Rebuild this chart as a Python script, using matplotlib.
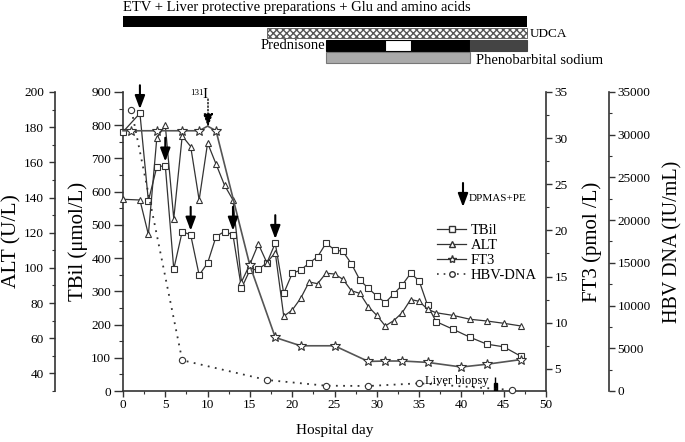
import matplotlib
matplotlib.use("Agg")
import matplotlib.pyplot as plt
from matplotlib.lines import Line2D
from matplotlib.patches import Rectangle

plt.rcParams['font.family'] = ['Liberation Serif', 'DejaVu Serif']

# TBil (umol/L)
tbil_day = [0, 2, 3, 4, 5, 6, 7, 8, 9, 10, 11, 12, 13, 14, 15, 16, 17, 18, 19, 20,
            21, 22, 23, 24, 25, 26, 27, 28, 29, 30, 31, 32, 33, 34, 35, 36, 37,
            39, 41, 43, 45, 47]
tbil_val = [780, 836, 572, 675, 678, 367, 480, 470, 349, 385, 465, 480, 470, 309,
            364, 367, 385, 445, 294, 354, 364, 385, 404, 445, 425, 420, 383, 334,
            309, 286, 266, 292, 319, 354, 332, 258, 209, 186, 162, 141, 133, 105]

# ALT (U/L)
alt_day = [0, 2, 3, 4, 5, 6, 7, 8, 9, 10, 11, 12, 13, 14, 15, 16, 17, 18, 19, 20,
           21, 22, 23, 24, 25, 26, 27, 28, 29, 30, 31, 32, 33, 34, 35, 36, 37,
           39, 41, 43, 45, 47]
alt_val = [139, 138.6, 119, 174, 181, 128, 175, 169, 138.6, 171, 159, 147, 138.6,
           92, 102, 113.6, 103, 108.6, 72.5, 76, 82.7, 92, 91, 97, 96.5, 93.5, 87,
           85.5, 78, 73, 67, 70, 74.5, 82, 81, 76.5, 74.5, 73, 70.8, 69.8, 68.5, 67]

# FT3 (pmol/L); day 10 has no marker in the original
ft3_day = [0, 1, 4, 7, 9, 10, 11, 15, 18, 21, 25, 29, 31, 33, 36, 40, 43, 47]
ft3_val = [30.8, 30.8, 30.8, 30.8, 30.8, 31.3, 30.8, 16.2, 8.4, 7.5, 7.5, 5.8,
           5.85, 5.85, 5.7, 5.2, 5.5, 6.0]
ft3_marked = [i for i, d in enumerate(ft3_day) if d not in (0, 10)]

# HBV DNA (IU/mL)
hbv_day = [1, 7, 17, 24, 29, 35, 46]
hbv_val = [32900, 3600, 1290, 620, 585, 900, 120]

# DPMAS+PE sessions
dpmas_day = [2, 5, 8, 13, 18]

# treatments (start day, end day)
etv = (0, 47.8)
udca = (17, 47.8)
pred_black = [(24, 31), (34, 41)]
pred_white = (31, 34)
pred_taper = (41, 47.8)
pheno = (24, 41)

col = '#333333'

fig = plt.figure(figsize=(6.85, 4.42), dpi=100)
ax = fig.add_axes([123 / 685, 1 - 391 / 442, 423 / 685, 299 / 442])
ax_alt = ax.twinx()
ax_ft3 = ax.twinx()
ax_hbv = ax.twinx()

# host axis: TBil + x
ax.set_xlim(0, 50)
ax.set_ylim(0, 900)
ax.set_xticks(range(0, 51, 5))
ax.set_xticks([i * 2.5 for i in range(21)], minor=True)
ax.set_yticks(range(0, 901, 100))
ax.set_yticks(range(0, 901, 50), minor=True)
for s in ['top', 'right']:
    ax.spines[s].set_visible(False)

ax_alt.set_ylim(30, 200)
ax_alt.set_yticks(range(40, 201, 20))
ax_alt.set_yticks(range(30, 201, 10), minor=True)
ax_alt.yaxis.set_ticks_position('left')
ax_alt.yaxis.set_label_position('left')
ax_alt.spines['left'].set_position(('outward', 49))
for s in ['top', 'right', 'bottom']:
    ax_alt.spines[s].set_visible(False)

ax_ft3.set_ylim(2.6, 35)
ax_ft3.set_yticks(range(5, 36, 5))
ax_ft3.set_yticks([2.5 * i for i in range(2, 15)], minor=True)
for s in ['top', 'left', 'bottom']:
    ax_ft3.spines[s].set_visible(False)

ax_hbv.set_ylim(0, 35000)
ax_hbv.set_yticks(range(0, 35001, 5000))
ax_hbv.set_yticks(range(0, 35001, 2500), minor=True)
ax_hbv.spines['right'].set_position(('outward', 45.4))
for s in ['top', 'left', 'bottom']:
    ax_hbv.spines[s].set_visible(False)

for a in [ax, ax_alt, ax_ft3, ax_hbv]:
    for s in a.spines.values():
        s.set_linewidth(1.2)
        s.set_color(col)
    a.tick_params(which='major', length=4, width=1.0, labelsize=9.5, color=col,
                  direction='out', pad=2)
    a.tick_params(which='minor', length=2.5, width=0.8, color=col, direction='out')
    a.patch.set_visible(False)
ax.tick_params(axis='y', which='major', length=6.5)
ax.tick_params(axis='y', which='minor', length=3)
ax_alt.tick_params(which='major', pad=4)

# series
ax.plot(tbil_day, tbil_val, '-', color=col, lw=0.9, marker='s', ms=4.5,
        mfc='white', mec=col, mew=0.8, clip_on=False, zorder=3)
ax_alt.plot(alt_day, alt_val, '-', color=col, lw=0.9, marker='^', ms=5,
            mfc='white', mec=col, mew=0.8, clip_on=False)
ax_ft3.plot(ft3_day, ft3_val, '-', color='#555555', lw=1.2, marker='*', ms=7,
            mfc='white', mec=col, mew=0.8, markevery=ft3_marked, clip_on=False)
ax_hbv.plot(hbv_day, hbv_val, ls=(0, (1, 3)), color=col, lw=1.3, marker='o', ms=4.5,
            mfc='white', mec=col, mew=0.8, clip_on=False)

# DPMAS+PE arrows
for d in dpmas_day:
    v = tbil_val[tbil_day.index(d)]
    ax_hbv.annotate('', xy=(d, v), xycoords=ax.transData, xytext=(0, 28),
                    textcoords='offset pixels',
                    arrowprops=dict(arrowstyle='-|>,head_length=0.8,head_width=0.3',
                                    color='black', lw=1.5, mutation_scale=10,
                                    shrinkA=0, shrinkB=3))

# 131I annotation
fig.text(190 / 685, 1 - 93 / 442, '131', fontsize=6.5, va='center')
fig.text(202 / 685, 1 - 95 / 442, 'I', fontsize=11, va='center')
ax_hbv.annotate('', xy=(208 / 685, 1 - 127 / 442), xycoords='figure fraction',
                xytext=(208 / 685, 1 - 99 / 442), textcoords='figure fraction',
                arrowprops=dict(arrowstyle='-|>,head_length=0.8,head_width=0.3',
                                color='black', lw=1.0, ls=(0, (1, 1.5)),
                                mutation_scale=10, shrinkA=0, shrinkB=0))

# legend arrow
ax_hbv.annotate('', xy=(463 / 685, 1 - 207 / 442), xycoords='figure fraction',
                xytext=(463 / 685, 1 - 183 / 442), textcoords='figure fraction',
                arrowprops=dict(arrowstyle='-|>,head_length=0.8,head_width=0.3',
                                color='black', lw=1.5, mutation_scale=10,
                                shrinkA=0, shrinkB=0))
fig.text(469 / 685, 1 - 199 / 442, 'DPMAS+PE', fontsize=8, va='center')

handles = [
    Line2D([], [], color=col, lw=0.9, marker='s', ms=4, mfc='white', mec=col),
    Line2D([], [], color=col, lw=0.9, marker='^', ms=4.5, mfc='white', mec=col),
    Line2D([], [], color=col, lw=0.9, marker='*', ms=6, mfc='white', mec=col),
    Line2D([], [], color=col, lw=1.2, ls=(0, (1, 3)), marker='o', ms=4, mfc='white', mec=col),
]
ax_hbv.legend(handles, ['TBil', 'ALT', 'FT3', 'HBV-DNA'], loc='upper left',
              bbox_to_anchor=(437 / 685, 1 - 224 / 442), bbox_transform=fig.transFigure,
              frameon=False, fontsize=10.5, handlelength=2.0, handletextpad=0.3,
              labelspacing=0.12, borderpad=0, borderaxespad=0)

# liver biopsy
ax_hbv.vlines(44, 0, 1600, color='black', lw=1.0)
ax_hbv.add_patch(Rectangle((43.8, 0), 0.4, 900, color='black'))
ax_hbv.text(43.2, 1150, 'Liver biopsy', fontsize=9, ha='right', va='center')

# labels
ax.set_xlabel('Hospital day', fontsize=11)
ax.xaxis.set_label_coords(0.5, -0.112)
ax.set_ylabel('TBil (\u03bcmol/L)', fontsize=15)
ax.yaxis.set_label_coords(-0.083, 0.5)
ax_alt.set_ylabel('ALT (U/L)', fontsize=15.5)
ax_alt.yaxis.set_label_coords(-0.239, 0.5)
ax_ft3.set_ylabel('FT3 (pmol /L)', fontsize=15)
ax_ft3.yaxis.set_label_coords(1.085, 0.5)
ax_hbv.set_ylabel('HBV DNA (IU/mL)', fontsize=14.5)
ax_hbv.yaxis.set_label_coords(1.277, 0.5)

# treatment bars on top
tx = fig.add_axes([123 / 685, 1 - 70 / 442, 423 / 685, 70 / 442])
tx.set_xlim(0, 50)
tx.set_ylim(70, 0)
tx.axis('off')
tx.barh(21.6, etv[1] - etv[0], left=etv[0], height=11.3, color='black')
tx.barh(33.3, udca[1] - udca[0], left=udca[0], height=10, color='white',
        edgecolor='#555555', hatch='xxxxx', lw=0.6)
for a, b in pred_black:
    tx.barh(45.5, b - a, left=a, height=11, color='black', edgecolor='black', lw=0.8)
tx.barh(45.5, pred_white[1] - pred_white[0], left=pred_white[0], height=11,
        color='white', edgecolor='black', lw=0.8)
tx.barh(45.5, pred_taper[1] - pred_taper[0], left=pred_taper[0], height=11,
        color='#444444', edgecolor='#444444', lw=0.8)
tx.barh(57.2, pheno[1] - pheno[0], left=pheno[0], height=11, color='#aaaaaa',
        edgecolor='#777777', lw=0.8)
tx.text(0, 7, 'ETV + Liver protective preparations + Glu and amino acids',
        fontsize=10.5, va='center', ha='left')
tx.text(udca[1] + 0.3, 34, 'UDCA', fontsize=9.5, va='center')
tx.text(pred_black[0][0] - 0.1, 45.7, 'Prednisone', fontsize=10.5, va='center', ha='right')
tx.text(pheno[1] + 0.7, 60, 'Phenobarbital sodium', fontsize=10.5, va='center')

fig.savefig('out.png', dpi=100)
